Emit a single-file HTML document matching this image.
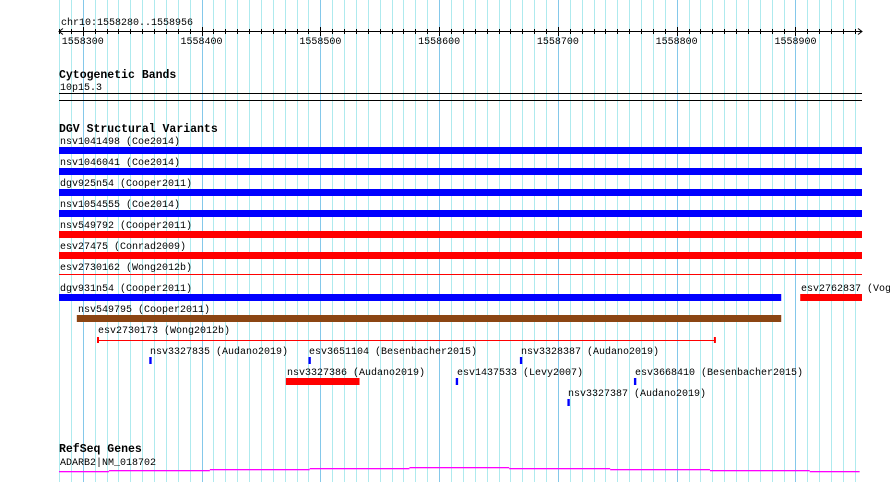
<!DOCTYPE html>
<html><head><meta charset="utf-8"><style>
html,body{margin:0;padding:0;background:#fff;}
svg{display:block;}
text{font-family:"Liberation Mono",monospace;font-size:10px;fill:#000;}
.t{font-weight:bold;font-size:11.5px;}
</style></head><body>
<svg id="c" width="890" height="482" xmlns="http://www.w3.org/2000/svg">
<g id="grid"></g>
<g id="ruler">
<text x="61" y="25">chr10:1558280..1558956</text>
</g>
<text class="t" x="59" y="78">Cytogenetic Bands</text>
<text x="60" y="90">10p15.3</text>
<rect x="59" y="93" width="803" height="1" fill="#000"/>
<rect x="59" y="100" width="803" height="1" fill="#000"/>
<text class="t" x="59" y="132">DGV Structural Variants</text>
<g id="vars"></g>
<text class="t" x="59" y="452">RefSeq Genes</text>
<text x="60" y="465">ADARB2|NM_018702</text>
<g id="gene"></g>
</svg>
<script>
const viewStart = 1558280;
const viewEnd = 1558956;
const tickLabels = [1558300,1558400,1558500,1558600,1558700,1558800,1558900];
const varNames = ["nsv1041498 (Coe2014)","nsv1046041 (Coe2014)","dgv925n54 (Cooper2011)","nsv1054555 (Coe2014)","nsv549792 (Cooper2011)","esv27475 (Conrad2009)","esv2730162 (Wong2012b)","dgv931n54 (Cooper2011)","esv2762837 (Vogler2010)","nsv549795 (Cooper2011)","esv2730173 (Wong2012b)","nsv3327835 (Audano2019)","esv3651104 (Besenbacher2015)","nsv3328387 (Audano2019)","nsv3327386 (Audano2019)","esv1437533 (Levy2007)","esv3668410 (Besenbacher2015)","nsv3327387 (Audano2019)"];
const varStarts = [1558280,1558280,1558280,1558280,1558280,1558280,1558280,1558280,1558904,1558295,1558312,1558356,1558490,1558668,1558471,1558614,1558764,1558708];
const varEnds = [1558956,1558956,1558956,1558956,1558956,1558956,1558956,1558888,1558956,1558888,1558833,1558358,1558492,1558670,1558533,1558616,1558766,1558710];
const varRows = [0,1,2,3,4,5,6,7,7,8,9,10,10,10,11,11,11,12];
const varColors = ["#0000ff","#0000ff","#0000ff","#0000ff","#ff0000","#ff0000","#ff0000","#0000ff","#ff0000","#8b4513","#ff0000","#0000ff","#0000ff","#0000ff","#ff0000","#0000ff","#0000ff","#0000ff"];
const varStyles = ["bar","bar","bar","bar","bar","bar","line","bar","bar","bar","cap","bar","bar","bar","bar","bar","bar","bar"];
const exonStarts = [1558280,1558322,1558407,1558491,1558575,1558659,1558744,1558828,1558912];
const exonLevels = [0,1,2,3,4,3,2,1,0];

const NS="http://www.w3.org/2000/svg";
const x0=59, x1=862;
const sc=(x1-x0)/(viewEnd-viewStart);
function X(bp){return x0+(bp-viewStart)*sc;}
function mk(tag,attrs,parent){const e=document.createElementNS(NS,tag);for(const k in attrs)e.setAttribute(k,attrs[k]);parent.appendChild(e);return e;}

const grid=document.getElementById('grid');
for(let bp=viewStart;bp<=viewEnd;bp+=10){
  const x=Math.round(X(bp))+0.5;
  const major=bp%100===0;
  const l=mk('line',{x1:x,x2:x,y1:0,y2:482,stroke:major?'#84c8ea':'#aeeaee','stroke-width':1},grid);
  
  
}
const ruler=document.getElementById('ruler');
const axl=mk('line',{x1:x0,x2:x1,y1:31.5,y2:31.5,stroke:'#000'},ruler);


mk('path',{d:`M${x0+4},28.5 L${x0},31.5 L${x0+4},34.5 M${x1-4},28.5 L${x1},31.5 L${x1-4},34.5`,stroke:'#000',fill:'none'},ruler);
for(let bp=viewStart;bp<=viewEnd;bp+=10){
  const x=Math.round(X(bp))+0.5;
  const major=bp%100===0;
  const t=mk('line',{x1:x,x2:x,y1:major?27:29,y2:major?36:34,stroke:'#000'},ruler);
  
  
}
tickLabels.forEach(v=>{
  const t=mk('text',{x:X(v),y:44,'text-anchor':'middle'},ruler);
  t.textContent=v;
  
  
});

const vars=document.getElementById('vars');
varNames.forEach((n,i)=>{
  const top=147+21*varRows[i];
  const xs=X(varStarts[i]), xe=X(varEnds[i]);
  const g=mk('g',{},vars);
  
  
  const lbl=mk('text',{x:Math.round(xs)+1,y:top-3},g);
  lbl.textContent=n;
  
  
  const c=varColors[i];
  if(varStyles[i]==='bar'){
    mk('rect',{x:xs,y:top,width:Math.max(2,xe-xs),height:7,fill:c},g);
  }else if(varStyles[i]==='line'){
    mk('rect',{x:xs,y:top+1,width:xe-xs,height:1,fill:c},g);
  }else{
    mk('rect',{x:xs,y:top+4,width:xe-xs,height:1,fill:c},g);
    mk('rect',{x:xs,y:top+1,width:2,height:6,fill:c},g);
    mk('rect',{x:xe-2,y:top+1,width:2,height:6,fill:c},g);
  }
});

const gene=document.getElementById('gene');
exonStarts.forEach((s,i)=>{
  const e=i<exonStarts.length-1?exonStarts[i+1]:viewEnd-2;
  const r=mk('rect',{x:X(s),y:471-exonLevels[i],width:X(e)-X(s),height:1.3,fill:'#ff00ff'},gene);
  
  
});
</script>
</body></html>
